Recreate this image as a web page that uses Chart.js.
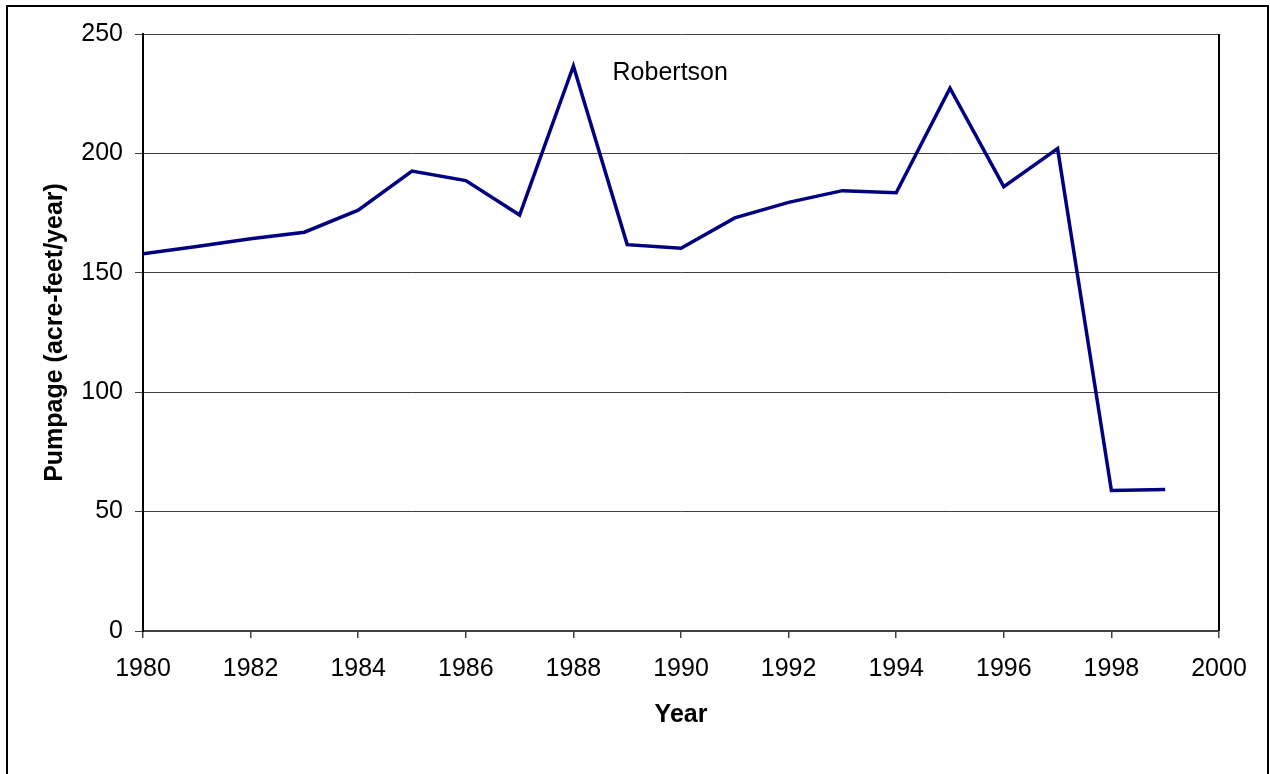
<!DOCTYPE html>
<html>
<head>
<meta charset="utf-8">
<script src="https://cdn.jsdelivr.net/npm/chart.js@4/dist/chart.umd.min.js"></script>
<style>
  body { margin: 0; background: #fff; }
  canvas { display: block; }
</style>
</head>
<body>
<canvas id="chart" width="1270" height="774"></canvas>
<script>
// annual pumpage, Robertson well
const years = [1980, 1981, 1982, 1983, 1984, 1985, 1986, 1987, 1988, 1989,
               1990, 1991, 1992, 1993, 1994, 1995, 1996, 1997, 1998, 1999];
const pumpage = [158, 161, 164.3, 167, 176.2, 192.6, 188.6, 174.2, 236.6, 161.8,
                 160.3, 173, 179.5, 184.4, 183.5, 227.3, 186.1, 202, 58.8, 59.3];
const wellName = 'Robertson';
const labelAt = { x: 1989.8, y: 233.5 };

const points = years.map((yr, i) => ({ x: yr, y: pumpage[i] }));

// frame round the whole page, right edge of the plot, and the well name
const extras = {
  id: 'extras',
  afterDraw(chart) {
    const c = chart.ctx;
    const a = chart.chartArea;
    c.save();
    c.strokeStyle = '#000';
    c.lineWidth = 2;
    c.beginPath();
    c.moveTo(7, 780);
    c.lineTo(7, 6);
    c.lineTo(1268, 6);
    c.lineTo(1268, 780);
    c.stroke();

    c.beginPath();
    c.moveTo(a.right, a.top);
    c.lineTo(a.right, a.bottom);
    c.stroke();

    c.fillStyle = '#000';
    c.font = '25px "Liberation Sans", Arial, sans-serif';
    c.textAlign = 'center';
    c.textBaseline = 'middle';
    c.fillText(wellName, chart.scales.x.getPixelForValue(labelAt.x), chart.scales.y.getPixelForValue(labelAt.y));
    c.restore();
  }
};

Chart.defaults.font.family = '"Liberation Sans", Arial, sans-serif';
Chart.defaults.color = '#000';

const ctx = document.getElementById('chart').getContext('2d');
const myChart = new Chart(ctx, {
  type: 'line',
  data: {
    datasets: [{
      label: wellName,
      data: points,
      borderColor: '#000080',
      borderWidth: 3.5,
      pointRadius: 0,
      tension: 0,
      fill: false
    }]
  },
  options: {
    responsive: false,
    animation: false,
    layout: { padding: { top: 34, right: 51, left: 0, bottom: 0 } },
    plugins: {
      legend: { display: false },
      tooltip: { enabled: false }
    },
    scales: {
      x: {
        type: 'linear',
        min: 1980,
        max: 2000,
        afterFit: s => { s.height = 143; },
        ticks: {
          stepSize: 2,
          maxRotation: 0,
          padding: 16,
          font: { size: 25 },
          callback: v => String(v)
        },
        grid: { drawOnChartArea: false, drawTicks: true, tickLength: 7, color: '#404040', lineWidth: 1.5 },
        border: { color: '#404040', width: 2 },
        title: { display: true, text: 'Year', font: { size: 25, weight: 'bold' }, padding: { top: 44, bottom: 44 } }
      },
      y: {
        min: 0,
        max: 250,
        afterFit: s => { s.width = 143; },
        ticks: { stepSize: 50, padding: 12, font: { size: 25 } },
        grid: { color: '#404040', lineWidth: 1, tickLength: 8 },
        border: { color: '#000', width: 2 },
        title: { display: true, text: 'Pumpage (acre-feet/year)', font: { size: 25, weight: 'bold' }, padding: { top: 40, bottom: 40 } }
      }
    }
  },
  plugins: [extras]
});
</script>
</body>
</html>
